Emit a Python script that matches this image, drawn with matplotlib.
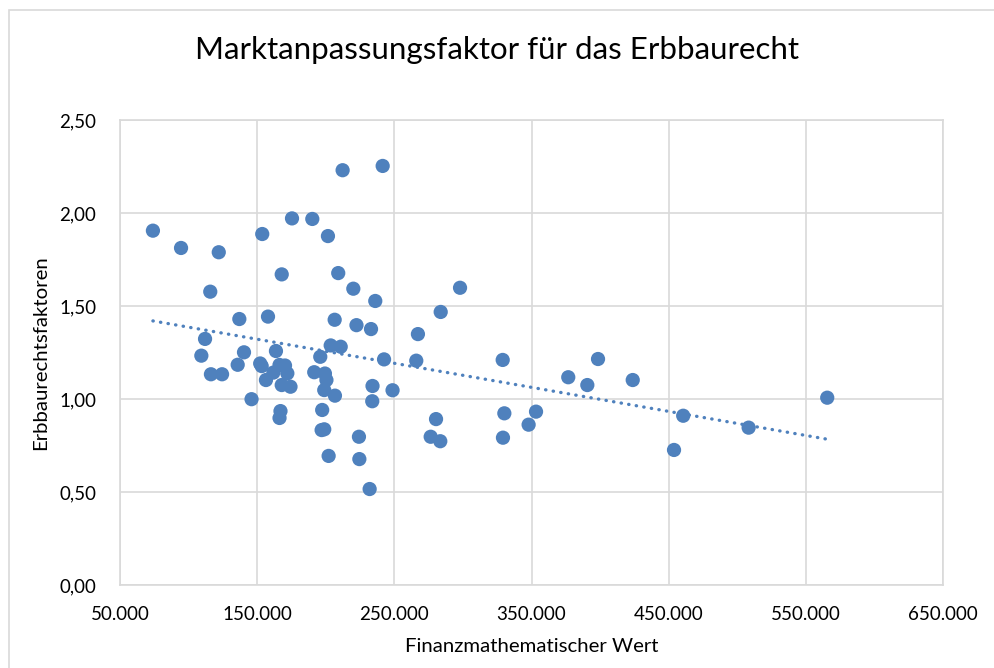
import numpy as np
import matplotlib.pyplot as plt
from matplotlib.patches import Rectangle
from matplotlib.ticker import FuncFormatter, MultipleLocator

# finanzmathematischer Wert (EUR) und zugehöriger Erbbaurechtsfaktor
wert = [
    74000, 94500, 122000, 115800, 153700, 175400, 190200, 201600, 212300, 241500,
    167900, 209100, 220100, 236100, 297900, 283800, 267200, 137000, 157900, 206500,
    222400, 233000, 112000, 109300, 116300, 124400, 135800, 140400, 145900, 152200,
    153300, 163700, 156400, 161800, 166300, 170300, 172000, 167900, 174300, 167000,
    166300, 196000, 191600, 199400, 200500, 198900, 206700, 197400, 197000, 198900,
    202100, 203600, 210900, 242500, 234100, 248700, 233900, 224200, 224500, 232000,
    266000, 280400, 276500, 283500, 329000, 330200, 329200, 347900, 353300, 376800,
    390700, 398500, 423800, 460600, 453900, 508300, 565600,
]
faktor = [
    1.905, 1.812, 1.789, 1.577, 1.887, 1.971, 1.968, 1.876, 2.230, 2.253,
    1.670, 1.677, 1.593, 1.527, 1.598, 1.468, 1.349, 1.430, 1.443, 1.426,
    1.397, 1.376, 1.323, 1.233, 1.133, 1.133, 1.184, 1.251, 0.999, 1.191,
    1.177, 1.258, 1.102, 1.142, 1.183, 1.180, 1.138, 1.075, 1.066, 0.935,
    0.898, 1.227, 1.144, 1.137, 1.102, 1.048, 1.018, 0.941, 0.833, 0.837,
    0.694, 1.288, 1.281, 1.213, 1.070, 1.047, 0.988, 0.797, 0.677, 0.516,
    1.206, 0.892, 0.797, 0.773, 1.210, 0.923, 0.792, 0.862, 0.932, 1.117,
    1.075, 1.215, 1.102, 0.910, 0.726, 0.846, 1.007,
]
x_ticks = [50000, 150000, 250000, 350000, 450000, 550000, 650000]

x = np.array(wert, dtype=float)
y = np.array(faktor)

blau = '#4F81BD'
grau = '#D9D9D9'
plt.rcParams['font.family'] = ['Lato', 'DejaVu Sans']

fig = plt.figure(figsize=(9.94, 6.68), dpi=100)
fig.patches.append(Rectangle((9 / 994, -0.05), 1.1, 1 - 10 / 668 + 0.05,
                             transform=fig.transFigure, fill=False,
                             edgecolor=grau, linewidth=1.2))

ax = fig.add_axes([120 / 994, 83 / 668, 823 / 994, 465 / 668])
ax.scatter(x, y, s=105, color=blau, edgecolors='none', zorder=3)

# lineare Trendlinie
m, b = np.polyfit(x, y, 1)
xt = np.array([x.min(), x.max()])
ax.plot(xt, m * xt + b, color=blau, linewidth=2.4,
        linestyle=(0, (0.1, 2.2)), dash_capstyle='round', zorder=2)

ax.set_xlim(x_ticks[0], x_ticks[-1])
ax.set_ylim(0, 2.5)
ax.set_xticks(x_ticks)
ax.yaxis.set_major_locator(MultipleLocator(0.5))
ax.xaxis.set_major_formatter(FuncFormatter(lambda v, p: f'{v:,.0f}'.replace(',', '.')))
ax.yaxis.set_major_formatter(FuncFormatter(lambda v, p: f'{v:.2f}'.replace('.', ',')))

ax.grid(True, color=grau, linewidth=1.2, zorder=0)
ax.set_axisbelow(True)
for s in ax.spines.values():
    s.set_color(grau)
    s.set_linewidth(1.2)
ax.tick_params(length=0, labelsize=13.5, colors='#000000')
ax.tick_params(axis='x', pad=15)
ax.tick_params(axis='y', pad=17)

ax.set_xlabel('Finanzmathematischer Wert', fontsize=14.7, labelpad=11)
ax.set_ylabel('Erbbaurechtsfaktoren', fontsize=14.7, labelpad=7)
fig.text(0.5, 1 - 50 / 668, 'Marktanpassungsfaktor für das Erbbaurecht',
         ha='center', va='center', fontsize=22.5)

fig.savefig('out.png', dpi=100)
